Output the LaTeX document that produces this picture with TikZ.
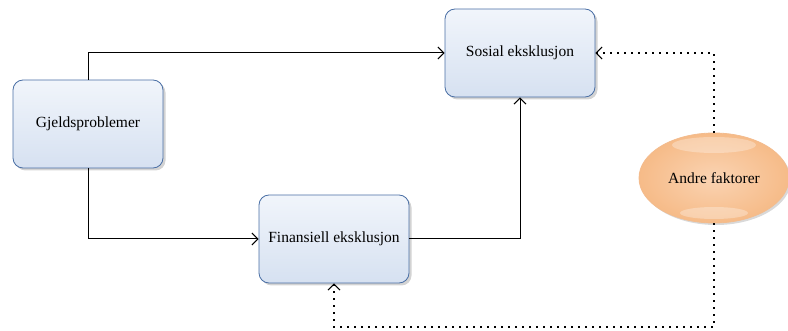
\documentclass[tikz,border=0pt]{standalone}
\usepackage{fontspec}
\setmainfont{Liberation Serif}
\usetikzlibrary{shapes.geometric,arrows.meta,shadows}
\definecolor{boksrand}{HTML}{4A6FA5}
\definecolor{bokstopp}{HTML}{F1F5FB}
\definecolor{boksbunn}{HTML}{D6E1F1}
\definecolor{faktorrand}{HTML}{F3BC8E}
\definecolor{faktorinn}{HTML}{FAD3B2}
\definecolor{faktorut}{HTML}{F6BB88}

\tikzset{
  boks/.style={draw=boksrand, line width=0.8pt, rounded corners=10pt,
    minimum width=150pt, minimum height=88pt, inner sep=2pt,
    top color=bokstopp, bottom color=boksbunn,
    drop shadow={shadow xshift=2.5pt, shadow yshift=-2.5pt, opacity=0.35},
    font=\fontsize{15.5}{18}\selectfont},
  faktor/.style={ellipse, draw=faktorrand, line width=0.8pt,
    minimum width=150pt, minimum height=90pt, inner sep=0pt,
    inner color=faktorinn, outer color=faktorut,
    drop shadow={shadow xshift=2pt, shadow yshift=-2pt, opacity=0.3},
    font=\fontsize{15.5}{18}\selectfont,
    path picture={
      \fill[white,opacity=0.3] (path picture bounding box.north) ++(0,12) ellipse [x radius=42pt, y radius=8pt];
      \fill[white,opacity=0.3] (path picture bounding box.south) ++(0,-10) ellipse [x radius=34pt, y radius=6pt];
    }},
  pil/.style={-{Straight Barb[length=6pt,width=12pt,line width=1pt]}, line width=1pt},
  prikk/.style={pil, line width=1.6pt, dash pattern=on 2pt off 5pt}
}

\begin{document}
\begin{tikzpicture}[x=1pt,y=-1pt]
\useasboundingbox (0,0) rectangle (788,331);
% Boksene
\node[boks] (gjeld) at (88,124) {Gjeldsproblemer};
\node[boks] (finans) at (334,239) {Finansiell eksklusjon};
\node[boks] (sosial) at (520,53) {Sosial eksklusjon};
\node[faktor] (andre) at (714,178) {Andre faktorer};
\coordinate (hjorne) at (714,327);
% Piler
\draw[pil] (gjeld.north) |- (sosial.west);
\draw[pil] (gjeld.south) |- (finans.west);
\draw[pil] (finans.east) -| (sosial.south);
% Stiplede piler
\draw[prikk] (andre.north) |- (sosial.east);
\draw[prikk] (andre.south) -- (hjorne) -| (finans.south);
\end{tikzpicture}
\end{document}
